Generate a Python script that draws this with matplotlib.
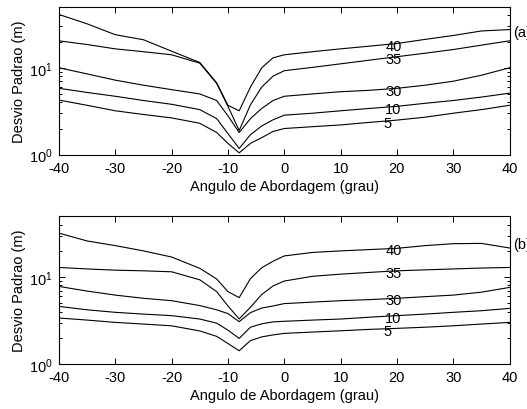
import numpy as np
import matplotlib
matplotlib.use("Agg")
import matplotlib.pyplot as plt
from matplotlib.ticker import LogLocator, NullFormatter, FixedLocator

plt.rcParams['font.family'] = ['Liberation Sans', 'DejaVu Sans']
plt.rcParams['mathtext.fontset'] = 'custom'
plt.rcParams['mathtext.rm'] = 'Liberation Sans'
plt.rcParams['axes.unicode_minus'] = False

# approach angle (grau)
angle = [-40, -35, -30, -25, -20, -15, -12, -10, -8, -6, -4, -2, 0,
         5, 10, 15, 20, 25, 30, 35, 40]
curve_labels = ['40', '35', '30', '10', '5']

# panel (a): standard deviation (m)
a40 = [41, 32, 24, 21, 15.5, 11.5, 6.7, 3.7, 3.2, 6.0, 10.0, 13.0, 14.1,
       15.3, 16.5, 17.7, 19.0, 21.2, 23.5, 26.5, 27.5]
a35 = [20.4, 18.5, 16.5, 15.3, 14.1, 11.3, 6.6, 3.6, 1.9, 3.75, 6.0, 8.0, 9.25,
       10.1, 11.1, 12.2, 13.4, 14.7, 16.2, 18.2, 20.4]
a30 = [10.0, 8.5, 7.2, 6.3, 5.6, 5.0, 4.2, 2.8, 1.8, 2.6, 3.4, 4.2, 4.7,
       5.0, 5.3, 5.5, 5.8, 6.3, 7.0, 8.2, 10.0]
a10 = [5.8, 5.2, 4.7, 4.2, 3.8, 3.3, 2.6, 1.75, 1.18, 1.7, 2.14, 2.52, 2.85,
       3.0, 3.2, 3.4, 3.6, 3.9, 4.2, 4.6, 5.1]
a5 = [4.25, 3.7, 3.2, 2.9, 2.65, 2.3, 1.8, 1.35, 1.05, 1.35, 1.57, 1.85, 2.0,
      2.1, 2.2, 2.35, 2.5, 2.7, 3.0, 3.3, 3.7]

# panel (b)
b40 = [32, 26, 23, 20, 17, 12.6, 9.5, 6.8, 5.8, 9.6, 12.8, 15.2, 17.5,
       19.2, 20, 20.7, 21.4, 23, 24.2, 24.4, 21.6]
b35 = [12.9, 12.4, 12.0, 11.8, 11.5, 9.3, 6.8, 4.65, 3.3, 4.5, 6.3, 7.9, 9.0,
       10.2, 10.8, 11.3, 11.8, 12.1, 12.4, 12.7, 12.9]
b30 = [7.8, 6.9, 6.2, 5.7, 5.35, 4.7, 4.2, 3.8, 3.07, 3.9, 4.4, 4.65, 4.95,
       5.15, 5.35, 5.5, 5.7, 5.95, 6.2, 6.7, 7.6]
b10 = [4.6, 4.2, 3.93, 3.75, 3.6, 3.29, 2.95, 2.45, 1.97, 2.65, 2.9, 3.05, 3.1,
       3.2, 3.29, 3.45, 3.6, 3.75, 3.93, 4.1, 4.36]
b5 = [3.38, 3.2, 3.01, 2.88, 2.75, 2.4, 2.08, 1.72, 1.42, 1.86, 2.05, 2.16, 2.25,
      2.33, 2.41, 2.5, 2.57, 2.65, 2.75, 2.88, 3.01]


def draw_panel(ax, curves, tag, tag_y):
    for vals, lab in zip(curves, curve_labels):
        ax.plot(angle, vals, color='black', lw=0.8)
        xl = 19.4 if lab != '5' else 18.4
        yl = 10 ** np.interp(xl, angle, np.log10(vals)) * 0.95
        ax.text(xl, yl, lab, ha='center', va='center', fontsize=10.5)
    ax.set_yscale('log')
    ax.set_xlim(-40, 40)
    ax.set_ylim(1, 50)
    ax.xaxis.set_major_locator(FixedLocator(range(-40, 41, 10)))
    ax.yaxis.set_major_locator(LogLocator(base=10, numticks=5))
    ax.yaxis.set_minor_locator(LogLocator(base=10, subs=np.arange(2, 10), numticks=10))
    ax.yaxis.set_minor_formatter(NullFormatter())
    ax.tick_params(which='both', direction='in', top=True, right=True,
                   labelsize=10.5, width=0.7)
    ax.tick_params(which='major', length=4, pad=4.5)
    ax.tick_params(which='minor', length=2.5)
    for sp in ax.spines.values():
        sp.set_linewidth(0.8)
    ax.set_xlabel('Angulo de Abordagem (grau)', fontsize=10.5, labelpad=3)
    ax.set_ylabel('Desvio Padrao (m)', fontsize=10.5, labelpad=2)
    ax.text(1.009, tag_y, tag, transform=ax.transAxes, fontsize=10.5,
            ha='left', va='center', clip_on=False)


fig = plt.figure(figsize=(5.27, 4.10), dpi=100)
ax1 = fig.add_axes([59 / 527, 1 - 155.7 / 410, 450.5 / 527, 147.7 / 410])
ax2 = fig.add_axes([59 / 527, 1 - 365 / 410, 450.5 / 527, 147.7 / 410])

draw_panel(ax1, [a40, a35, a30, a10, a5], '(a)', 0.83)
draw_panel(ax2, [b40, b35, b30, b10, b5], '(b)', 0.81)

fig.savefig('out.png', dpi=100, facecolor='white')
